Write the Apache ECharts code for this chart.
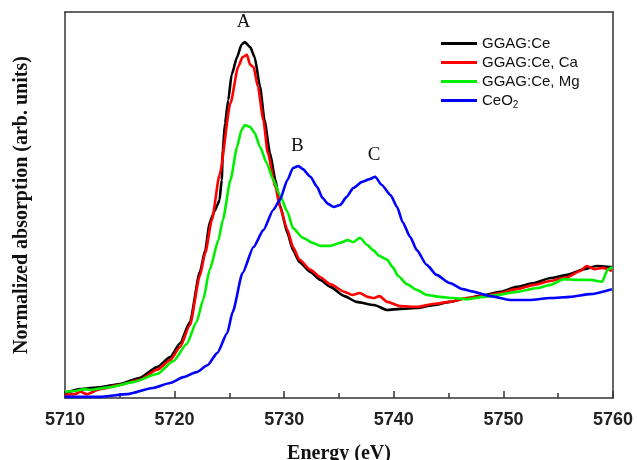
<!DOCTYPE html>
<html><head><meta charset="utf-8">
<script src="https://cdn.jsdelivr.net/npm/echarts@6/dist/echarts.min.js"></script>
<style>html,body{margin:0;padding:0;background:#fff}#c{width:637px;height:460px}</style>
</head><body><div id="c"></div>
<script>
// Energy (eV) / normalized absorption (arb. units, 0-100)
const ggagCeE = [5710.0,5711.4,5713.2,5715.0,5716.8,5718.4,5719.6,5720.5,5721.4,5722.3,5722.8,5723.2,5723.7,5723.9,5724.1,5724.3,5724.4,5724.6,5724.9,5725.2,5725.7,5726.1,5726.4,5726.9,5727.3,5727.8,5728.2,5728.7,5729.2,5729.6,5730.3,5730.8,5731.4,5732.4,5733.3,5734.2,5735.5,5736.6,5738.2,5739.4,5740.6,5742.1,5743.7,5745.1,5746.7,5748.2,5749.7,5751.2,5752.8,5754.3,5755.8,5757.4,5758.5,5759.9];
const ggagCeV = [1.3,2.3,2.8,3.6,5.2,8.0,10.6,14.2,19.7,32.6,38.3,45.6,48.7,50.0,51.3,56.5,64.2,71.2,77.2,83.7,88.3,91.5,92.2,90.9,88.3,80.6,72.0,63.5,56.5,50.0,42.7,38.3,35.2,32.6,30.6,28.8,26.4,24.9,24.1,22.8,23.1,23.3,24.1,24.9,25.9,26.7,27.5,28.8,29.8,31.1,31.9,33.4,34.2,33.9];

const ggagCaE = [5710.0,5710.9,5711.4,5712.0,5713.2,5715.0,5716.8,5718.4,5719.6,5720.5,5721.4,5722.3,5722.8,5723.4,5724.1,5725.1,5725.8,5726.2,5726.6,5726.9,5727.2,5727.6,5728.1,5728.5,5729.2,5729.6,5730.3,5730.8,5731.4,5732.4,5733.3,5734.2,5735.5,5736.2,5736.9,5737.6,5738.2,5738.7,5739.4,5740.6,5742.1,5743.7,5745.1,5746.7,5748.2,5749.7,5751.2,5752.8,5754.3,5755.8,5757.0,5757.6,5758.3,5759.1,5759.9];
const ggagCaV = [0.8,1.0,1.6,1.0,2.3,3.4,4.7,7.3,9.8,13.2,18.9,31.6,37.6,46.1,57.8,76.4,85.8,88.3,88.9,86.3,85.8,80.6,72.0,63.5,54.7,49.5,43.5,39.1,35.8,33.2,31.3,29.5,27.5,26.7,27.2,26.2,25.9,26.4,24.9,23.8,23.6,24.4,24.9,25.9,26.4,27.2,28.2,29.3,30.3,31.3,32.9,34.2,33.4,33.7,32.9];

const ggagMgE = [5710.0,5710.9,5711.8,5712.3,5714.1,5716.2,5718.4,5719.9,5721.1,5722.0,5722.6,5723.2,5724.0,5724.4,5725.1,5725.7,5726.1,5726.4,5726.9,5727.3,5727.8,5728.4,5729.0,5729.6,5730.3,5730.8,5731.7,5732.6,5733.3,5734.2,5735.1,5735.8,5736.3,5736.9,5737.6,5738.1,5738.7,5739.4,5739.9,5740.4,5741.2,5742.1,5743.0,5744.2,5745.4,5746.7,5748.2,5749.4,5751.2,5753.1,5754.3,5755.5,5756.7,5757.9,5759.0,5759.5,5759.9];
const ggagMgV = [1.6,1.8,2.3,2.1,2.8,4.1,6.2,9.6,14.0,19.7,25.4,33.2,40.9,46.1,56.5,65.0,69.4,70.7,70.2,68.7,65.0,60.9,56.5,52.6,48.2,44.0,41.5,40.2,39.4,39.4,40.2,40.9,40.4,41.5,39.6,38.3,36.8,35.8,33.9,31.6,29.5,28.0,26.7,26.2,25.9,25.6,26.2,26.7,27.5,28.5,29.3,30.8,30.6,30.6,30.1,33.2,33.9];

const ceo2E = [5710.0,5713.2,5715.7,5718.0,5719.6,5720.8,5722.0,5723.0,5723.9,5724.8,5725.3,5726.2,5727.2,5728.1,5729.0,5729.6,5730.3,5730.8,5731.3,5731.7,5732.4,5733.0,5733.5,5734.0,5734.5,5735.1,5735.7,5736.3,5737.1,5737.8,5738.3,5738.9,5739.7,5740.3,5740.8,5741.5,5742.1,5743.0,5743.9,5745.1,5746.3,5747.0,5748.8,5750.6,5752.4,5754.3,5756.1,5757.9,5759.9];
const ceo2V = [0.3,0.3,1.0,2.6,3.9,5.4,6.7,8.5,11.7,16.8,22.3,32.4,39.1,43.5,48.7,51.3,56.5,59.6,60.1,59.3,57.3,54.7,51.8,50.3,49.5,50.0,52.1,54.4,56.0,56.7,57.3,55.2,52.6,49.5,45.6,41.7,38.3,34.5,31.9,29.8,28.2,27.7,26.4,25.4,25.4,25.9,26.2,26.9,28.2];

const seriesNames = ['GGAG:Ce','GGAG:Ce, Ca','GGAG:Ce, Mg','CeO2'];
const seriesColors = ['#000000','#ff0000','#00ee00','#0000ff'];
const xTicks = [5710,5720,5730,5740,5750,5760];
const peakLabels = ['A','B','C'];
const peakE = [5726.3,5731.2,5738.2];
const peakV = [97.5,65.3,63.0];

function zip(a,b){return a.map((x,i)=>[x,b[i]]);}
const allE=[ggagCeE,ggagCaE,ggagMgE,ceo2E], allV=[ggagCeV,ggagCaV,ggagMgV,ceo2V];

const chart = echarts.init(document.getElementById('c'));
const series = seriesNames.map((n,i)=>({
  name:n, type:'line', data:zip(allE[i],allV[i]), symbol:'none', smooth:0.2, smoothMonotone:'x',
  lineStyle:{color:seriesColors[i], width:2.6}, itemStyle:{color:seriesColors[i]},
  z: 2+i
}));
series[0].markPoint = {
  symbol:'circle', symbolSize:0, silent:true,
  label:{show:true, position:'inside', color:'#111', fontFamily:'Liberation Serif, Times New Roman, serif', fontSize:19, formatter:p=>p.name},
  data: peakLabels.map((l,i)=>({name:l, coord:[peakE[i],peakV[i]]}))
};
chart.setOption({
  animation:false,
  backgroundColor:'#fff',
  grid:{left:65, right:24, top:12, bottom:62, containLabel:false, outerBoundsMode:'none'},
  legend:{
    data:seriesNames, orient:'vertical', left:436, top:31, itemGap:4,
    itemWidth:36, itemHeight:3, icon:'rect',
    formatter:n=> n==='CeO2' ? 'CeO{s|2}' : n,
    textStyle:{color:'#111', fontSize:15, fontFamily:'Liberation Sans, Arial, sans-serif',
      rich:{s:{fontSize:10, verticalAlign:'bottom', padding:[9,0,0,0], fontFamily:'Liberation Sans, Arial, sans-serif', color:'#111'}}}
  },
  xAxis:[{
    type:'value', min:5710, max:5760, interval:10,
    name:'Energy (eV)', nameLocation:'middle', nameGap:46,
    nameTextStyle:{fontFamily:'Liberation Serif, Times New Roman, serif', fontWeight:'bold', fontSize:20, color:'#111'},
    axisLine:{lineStyle:{color:'#333', width:1.5}},
    axisTick:{inside:true, length:7, lineStyle:{color:'#333', width:1.5}},
    minorTick:{show:true, splitNumber:2, length:5, lineStyle:{color:'#333', width:1.5}},
    axisLabel:{margin:13, fontFamily:'Liberation Sans, Arial, sans-serif', fontWeight:'bold', fontSize:18, color:'#222',
      formatter:v=> xTicks.includes(v) ? String(v) : ''},
    splitLine:{show:false}
  },{
    type:'value', position:'top', min:5710, max:5760,
    axisLine:{show:true, onZero:false, lineStyle:{color:'#333', width:1.5}},
    axisTick:{show:false}, axisLabel:{show:false}, splitLine:{show:false}
  }],
  yAxis:[{
    type:'value', min:0, max:100,
    name:'Normalized absorption (arb. units)', nameLocation:'middle', nameGap:33,
    nameTextStyle:{fontFamily:'Liberation Serif, Times New Roman, serif', fontWeight:'bold', fontSize:20, color:'#111'},
    axisLine:{show:true, lineStyle:{color:'#333', width:1.5}},
    axisTick:{show:false}, axisLabel:{show:false}, splitLine:{show:false}
  },{
    type:'value', position:'right', min:0, max:100,
    axisLine:{show:true, onZero:false, lineStyle:{color:'#333', width:1.5}},
    axisTick:{show:false}, axisLabel:{show:false}, splitLine:{show:false}
  }],
  series:series
});
</script></body></html>
